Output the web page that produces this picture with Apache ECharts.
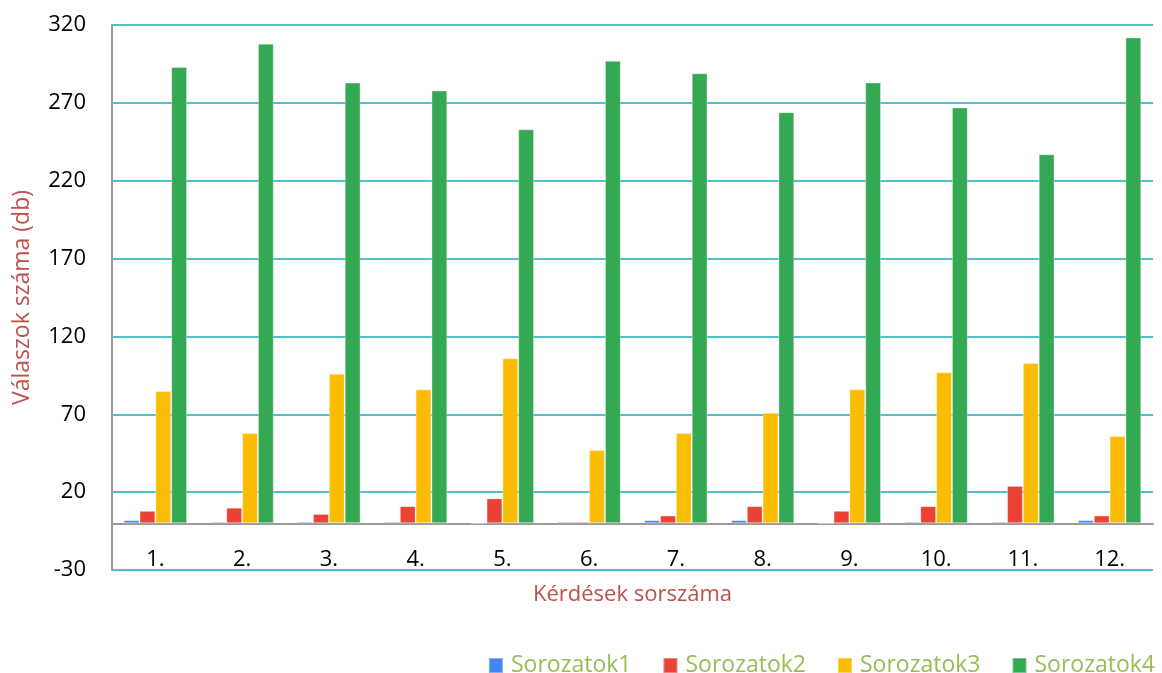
<!DOCTYPE html>
<html>
<head>
<meta charset="utf-8">
<script src="https://cdn.jsdelivr.net/npm/echarts@6/dist/echarts.min.js"></script>
<style>
html,body{margin:0;padding:0;background:#fff;}
#chart{width:1162px;height:673px;}
</style>
</head>
<body>
<div id="chart"></div>
<script>
const categories = ['1.', '2.', '3.', '4.', '5.', '6.', '7.', '8.', '9.', '10.', '11.', '12.'];
const seriesNames = ['Sorozatok1', 'Sorozatok2', 'Sorozatok3', 'Sorozatok4'];
const sorozatok1 = [2, 1, 1, 1, 0, 1, 2, 2, 0, 1, 1, 2];
const sorozatok2 = [8, 10, 6, 11, 16, 1, 5, 11, 8, 11, 24, 5];
const sorozatok3 = [85, 58, 96, 86, 106, 47, 58, 71, 86, 97, 103, 56];
const sorozatok4 = [293, 308, 283, 278, 253, 297, 289, 264, 283, 267, 237, 312];
const colors = ['#4285F4', '#EA4335', '#FBBC04', '#34A853'];

const FONT = "'Open Sans', 'Noto Sans', sans-serif";
const allData = [sorozatok1, sorozatok2, sorozatok3, sorozatok4];

const chart = echarts.init(document.getElementById('chart'), null, {renderer: 'canvas'});
chart.setOption({
  animation: false,
  textStyle: {fontFamily: FONT},
  grid: {left: 112, right: 9, top: 25, bottom: 103, containLabel: false},
  legend: {
    data: seriesNames,
    right: 7,
    top: 654,
    padding: 0,
    icon: 'rect',
    itemWidth: 14,
    itemHeight: 15,
    itemGap: 31,
    textStyle: {fontFamily: FONT, fontSize: 23, color: '#9BBB59', padding: [0, 0, 0, 3]}
  },
  xAxis: {
    type: 'category',
    data: categories,
    name: 'Kérdések sorszáma',
    nameLocation: 'middle',
    nameGap: 14,
    nameTextStyle: {fontFamily: FONT, fontSize: 22, color: '#C0504D'},
    axisLine: {show: true, onZero: true, lineStyle: {color: '#9a9a9a', width: 2}},
    axisTick: {show: false},
    axisLabel: {fontFamily: FONT, fontSize: 22, color: '#000', margin: -21},
    splitLine: {show: false}
  },
  yAxis: {
    type: 'value',
    min: -30,
    max: 320,
    interval: 50,
    name: 'Válaszok száma (db)',
    nameLocation: 'middle',
    nameGap: 78,
    nameTextStyle: {fontFamily: FONT, fontSize: 23, color: '#C0504D'},
    axisLine: {show: true, lineStyle: {color: '#9a9a9a', width: 2}},
    axisTick: {show: false},
    axisLabel: {fontFamily: FONT, fontSize: 22, color: '#000', margin: 26},
    splitLine: {show: true, lineStyle: {color: '#4FC1C9', width: 2}}
  },
  series: seriesNames.map((n, i) => ({
    name: n,
    type: 'bar',
    data: allData[i],
    barGap: '0%',
    barCategoryGap: '27%',
    itemStyle: {color: colors[i], borderColor: 'rgba(255,255,255,0.35)', borderWidth: 1}
  }))
});
</script>
</body>
</html>
